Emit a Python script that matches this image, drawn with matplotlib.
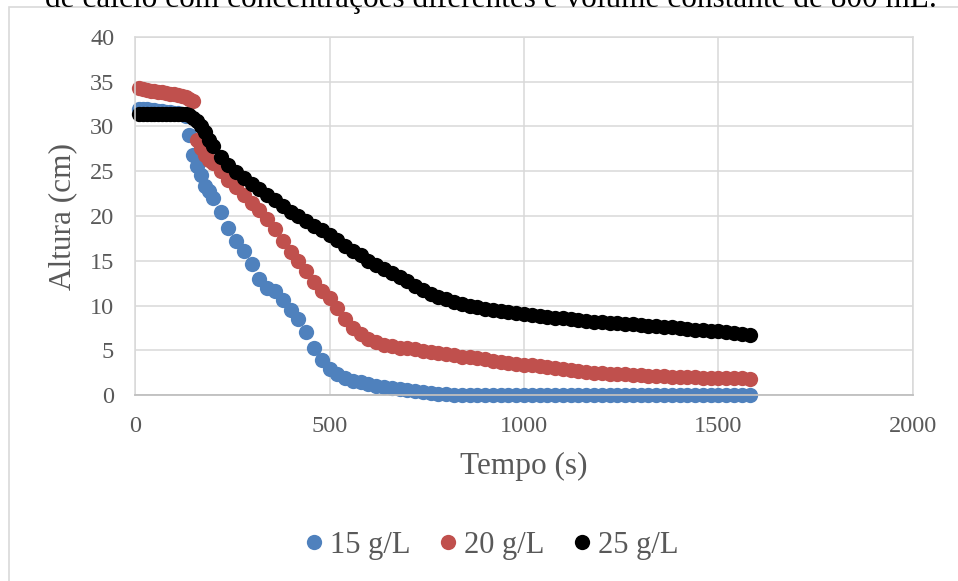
import matplotlib
matplotlib.use("Agg")
import matplotlib.pyplot as plt
from matplotlib.lines import Line2D
from matplotlib.patches import Rectangle

# tempo (s)
tempo = [10, 20, 30, 40, 50, 60, 70, 80, 90, 100,
         110, 120, 130, 140, 150, 160, 170, 180, 190, 200,
         220, 240, 260, 280, 300, 320, 340, 360, 380, 400,
         420, 440, 460, 480, 500, 520, 540, 560, 580, 600,
         620, 640, 660, 680, 700, 720, 740, 760, 780, 800,
         820, 840, 860, 880, 900, 920, 940, 960, 980, 1000,
         1020, 1040, 1060, 1080, 1100, 1120, 1140, 1160, 1180, 1200,
         1220, 1240, 1260, 1280, 1300, 1320, 1340, 1360, 1380, 1400,
         1420, 1440, 1460, 1480, 1500, 1520, 1540, 1560, 1580]

# altura (cm) para cada concentracao
h15 = [32.0, 31.9, 31.9, 31.8, 31.8, 31.7, 31.7, 31.6, 31.6, 31.5,
       31.5, 31.4, 31.2, 29.1, 26.8, 25.6, 24.6, 23.4, 22.8, 22.0,
       20.5, 18.7, 17.2, 16.1, 14.6, 13.0, 12.0, 11.6, 10.6, 9.5,
       8.5, 7.0, 5.3, 3.9, 2.9, 2.3, 1.9, 1.6, 1.4, 1.2,
       1.0, 0.9, 0.8, 0.7, 0.55, 0.45, 0.35, 0.25, 0.15, 0.1,
       0.05, 0.0, 0.0, 0.0, 0.0, 0.0, 0.0, 0.0, 0.0, 0.0,
       0.0, 0.0, 0.0, 0.0, 0.0, 0.0, 0.0, 0.0, 0.0, 0.0,
       0.0, 0.0, 0.0, 0.0, 0.0, 0.0, 0.0, 0.0, 0.0, 0.0,
       0.0, 0.0, 0.0, 0.0, 0.0, 0.0, 0.0, 0.0, 0.0]
h20 = [34.3, 34.2, 34.1, 34.0, 33.95, 33.9, 33.8, 33.7, 33.65, 33.6,
       33.5, 33.4, 33.3, 33.1, 32.9, 28.5, 27.6, 26.8, 26.3, 25.9,
       25.0, 24.0, 23.2, 22.3, 21.5, 20.7, 19.7, 18.6, 17.2, 16.0,
       15.0, 13.8, 12.6, 11.6, 10.8, 9.7, 8.5, 7.5, 6.8, 6.3,
       5.9, 5.6, 5.45, 5.3, 5.2, 5.1, 4.95, 4.85, 4.7, 4.6,
       4.45, 4.3, 4.2, 4.1, 4.0, 3.85, 3.7, 3.6, 3.5, 3.4,
       3.3, 3.2, 3.1, 3.0, 2.9, 2.8, 2.7, 2.6, 2.5, 2.45,
       2.4, 2.35, 2.3, 2.25, 2.2, 2.15, 2.1, 2.1, 2.05, 2.05,
       2.0, 2.0, 1.95, 1.95, 1.9, 1.9, 1.85, 1.85, 1.8]
h25 = [31.4, 31.4, 31.4, 31.4, 31.4, 31.4, 31.4, 31.4, 31.4, 31.4,
       31.4, 31.4, 31.4, 31.3, 31.0, 30.6, 30.0, 29.4, 28.5, 27.8,
       26.6, 25.7, 24.9, 24.2, 23.6, 23.0, 22.4, 21.8, 21.1, 20.5,
       20.0, 19.4, 18.9, 18.4, 17.9, 17.3, 16.7, 16.1, 15.6, 15.0,
       14.5, 14.1, 13.6, 13.2, 12.7, 12.2, 11.7, 11.3, 11.0, 10.7,
       10.4, 10.2, 10.0, 9.8, 9.65, 9.5, 9.4, 9.3, 9.15, 9.0,
       8.95, 8.85, 8.75, 8.65, 8.55, 8.45, 8.35, 8.3, 8.2, 8.15,
       8.05, 8.0, 7.95, 7.9, 7.8, 7.75, 7.7, 7.6, 7.55, 7.45,
       7.4, 7.3, 7.25, 7.15, 7.1, 7.0, 6.9, 6.85, 6.75]

series = [("15 g/L", h15, "#4F81BD"), ("20 g/L", h20, "#C0504D"), ("25 g/L", h25, "#000000")]

plt.rcParams['font.family'] = ['Liberation Serif', 'DejaVu Serif']

W, H = 958, 581
fig = plt.figure(figsize=(W / 100, H / 100), dpi=100)

# moldura do grafico (cortada na imagem)
fig.patches.append(Rectangle((9 / W, -0.2), 1.2, 1.2 - 7 / H, transform=fig.transFigure,
                             fill=False, edgecolor="#d9d9d9", linewidth=1.2))
# linha de texto do documento, cortada no topo como no original
fig.text(45 / W, 1 - 6.5 / H, "de cálcio com concentrações diferentes e volume constante de 800 mL.",
         fontsize=22.5, color="black", va="baseline", ha="left")

ax = fig.add_axes([135 / W, 1 - 395 / H, (913 - 135) / W, (395 - 37) / H])

for nome, h, cor in series:
    ax.plot(tempo, h, linestyle="none", marker="o", markersize=11, color=cor,
            markeredgewidth=0, clip_on=False, label=nome)

ax.set_xlim(0, 2000)
ax.set_ylim(0, 40)
ax.set_xticks(range(0, 2001, 500))
ax.set_yticks(range(0, 41, 5))
ax.grid(True, color="#d9d9d9", linewidth=1.1)
ax.set_axisbelow(True)
for s in ["top", "right", "left"]:
    ax.spines[s].set_color("#d9d9d9")
    ax.spines[s].set_linewidth(1.1)
ax.spines["bottom"].set_color("#bfbfbf")
ax.spines["bottom"].set_linewidth(1.3)
ax.tick_params(length=0, pad=15, labelsize=17.5, labelcolor="#595959")

fig.text(524 / W, 1 - 466 / H, "Tempo (s)", fontsize=22.5, color="#595959", ha="center", va="center")
fig.text(63 / W, 1 - 216 / H, "Altura (cm)", fontsize=22.5, color="#595959", ha="center", va="center",
         rotation=90)

handles = [Line2D([], [], linestyle="none", marker="o", markersize=11, color=c, markeredgewidth=0)
           for _, _, c in series]
fig.legend(handles, [n for n, _, _ in series], loc="center", bbox_to_anchor=(492 / W, 1 - 545 / H),
           ncol=3, frameon=False, fontsize=22, labelcolor="#595959", handlelength=0.55,
           handletextpad=0.25, columnspacing=0.95, borderpad=0)

fig.savefig("out.png", dpi=100)
